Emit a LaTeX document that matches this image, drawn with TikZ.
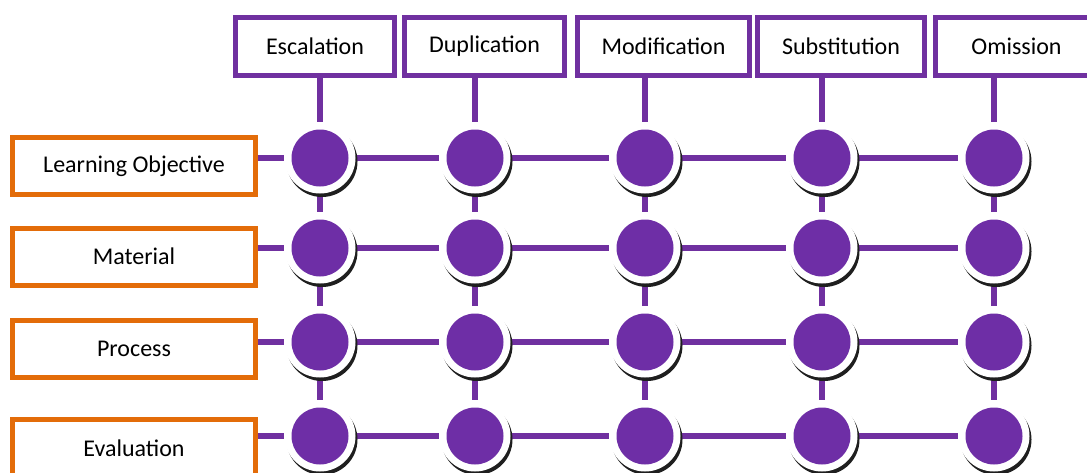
\documentclass[tikz,border=0pt]{standalone}
\usepackage{fontspec}
\setmainfont{Carlito}
\usetikzlibrary{backgrounds,shadows}
\definecolor{pcol}{HTML}{7030A0}
\definecolor{dotcol}{HTML}{6E2EA6}
\definecolor{ocol}{HTML}{E36C09}
\tikzset{
  x=1pt, y=-1pt,
  topbox/.style={draw=pcol, line width=5pt, fill=white, minimum height=58pt, inner sep=0pt, font=\fontsize{24}{28}\selectfont},
  sidebox/.style={draw=ocol, line width=5pt, fill=white, minimum width=243pt, minimum height=57pt, inner sep=0pt, font=\fontsize{24}{28}\selectfont},
  dot/.style={circle, minimum size=71pt, inner sep=0pt, fill=white,
    drop shadow={shadow xshift=2pt, shadow yshift=-3.5pt, fill=black!88, opacity=1},
    path picture={\fill[dotcol] (path picture bounding box.center) circle (28.5pt);}},
  link/.style={draw=pcol, line width=6.5pt}
}
\begin{document}
\begin{tikzpicture}
\useasboundingbox (0,0) rectangle (1087,472);
\clip (0,0) rectangle (1087,472);

% strategy headers
\node[topbox, minimum width=159pt] (esc) at (315,46.5) {Escalation};
\node[topbox, minimum width=160pt] (dup) at (484.5,46.5) {Duplication};
\node[topbox, minimum width=172pt] (mod) at (663.5,46.5) {Modification};
\node[topbox, minimum width=167pt] (sub) at (841,46.5) {Substitution};
\node[topbox, minimum width=162pt] (omi) at (1016.5,46.5) {Omission};

% component labels
\node[sidebox] (lo)  at (134,166)   {Learning Objective};
\node[sidebox] (mat) at (134,256.5) {Material};
\node[sidebox] (pro) at (134,349)   {Process};
\node[sidebox] (eva) at (134,448)   {Evaluation};

% grid of junctions
\foreach \c/\x in {1/320,2/475,3/645,4/822,5/994}{
  \foreach \r/\y in {1/158,2/248,3/342,4/436}{
    \node[dot] (d\r\c) at (\x,\y) {};
  }
}

% connectors
\begin{scope}[on background layer]
  \foreach \c/\t in {1/esc,2/dup,3/mod,4/sub,5/omi}{
    \draw[link] (\t.south -| d1\c) -- (d1\c);
    \draw[link] (d1\c) -- (d2\c) -- (d3\c) -- (d4\c);
  }
  \foreach \r/\s in {1/lo,2/mat,3/pro,4/eva}{
    \draw[link] (\s.east |- d\r1) -- (d\r1) -- (d\r2) -- (d\r3) -- (d\r4) -- (d\r5);
  }
\end{scope}
\end{tikzpicture}
\end{document}
